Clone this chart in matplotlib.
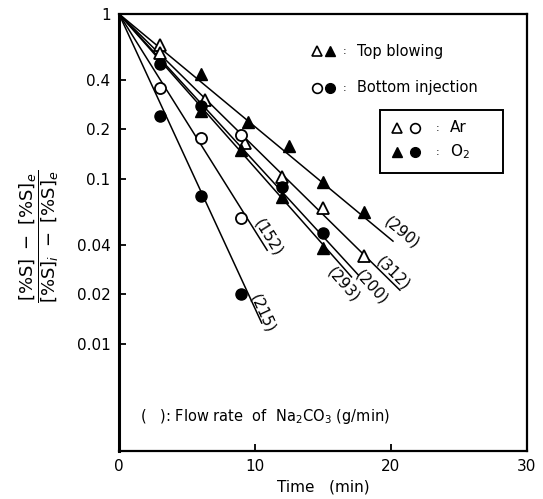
import math
import numpy as np
import matplotlib.pyplot as plt

# measured points, grouped by marker type
open_tri_t = [3, 3, 6.3, 9.3, 12, 15, 18]
open_tri_y = [0.65, 0.58, 0.30, 0.166, 0.103, 0.067, 0.034]
filled_tri_t = [6, 6, 9.5, 9, 12.5, 12, 15, 15, 18]
filled_tri_y = [0.43, 0.258, 0.22, 0.15, 0.158, 0.078, 0.096, 0.038, 0.063]
open_circ_t = [3, 6, 9, 9]
open_circ_y = [0.356, 0.177, 0.185, 0.058]
filled_circ_t = [3, 3, 6, 6, 9, 12, 15]
filled_circ_y = [0.50, 0.24, 0.277, 0.079, 0.02, 0.089, 0.047]

# fitted lines, all starting from (0, 1)
line_labels = ['(290)', '(312)', '(200)', '(293)', '(152)', '(215)']
line_end_t = [20.15, 20.66, 17.6, 17.1, 10.9, 10.5]
line_end_y = [0.042, 0.0212, 0.0262, 0.0255, 0.037, 0.0134]
label_t = [20.8, 20.15, 18.6, 16.5, 10.96, 10.6]
label_y = [0.0471, 0.0269, 0.0221, 0.0228, 0.0439, 0.0154]

x_ticks = [0, 10, 20, 30]
y_ticks = [1, 0.4, 0.2, 0.1, 0.04, 0.02, 0.01]
y_tick_labels = ['1', '0.4', '0.2', '0.1', '0.04', '0.02', '0.01']

plt.rcParams['font.family'] = ['DejaVu Sans']

fig = plt.figure(figsize=(5.43, 4.99), dpi=100)
ax = fig.add_axes([0.219, 0.0962, 0.7515, 0.876])
ax.set_yscale('log')
ax.set_xlim(0, 30)
ax.set_ylim(10 ** -2.648, 1)

for t_end, y_end in zip(line_end_t, line_end_y):
    ax.plot([0, t_end], [1, y_end], color='black', lw=1.1, zorder=2)

ms = 8
ax.plot(open_tri_t, open_tri_y, '^', ms=ms, mfc='white', mec='black', mew=1.3, ls='none', zorder=3)
ax.plot(filled_tri_t, filled_tri_y, '^', ms=ms, mfc='black', mec='black', ls='none', zorder=3)
ax.plot(open_circ_t, open_circ_y, 'o', ms=ms, mfc='white', mec='black', mew=1.3, ls='none', zorder=3)
ax.plot(filled_circ_t, filled_circ_y, 'o', ms=ms, mfc='black', mec='black', ls='none', zorder=3)

ax.set_xticks(x_ticks)
ax.set_xticklabels([str(v) for v in x_ticks])
ax.set_yticks(y_ticks)
ax.set_yticklabels(y_tick_labels)
ax.minorticks_off()
ax.tick_params(direction='in', length=5, width=1.3, labelsize=11, pad=6)
for side in ['top', 'right', 'bottom']:
    ax.spines[side].set_linewidth(1.6)
ax.spines['left'].set_linewidth(2.2)

# line labels rotated along each line
fig.canvas.draw()
for lab, t_end, y_end, lt, ly in zip(line_labels, line_end_t, line_end_y, label_t, label_y):
    p0 = ax.transData.transform((0, 1))
    p1 = ax.transData.transform((t_end, y_end))
    ang = math.degrees(math.atan2(p1[1] - p0[1], p1[0] - p0[0]))
    ax.text(lt, ly, lab, rotation=ang, rotation_mode='anchor', ha='center', va='center', fontsize=11)

# legend keys
kw_open = dict(mfc='white', mec='black', mew=1.2, ms=7, transform=ax.transAxes, clip_on=False)
kw_fill = dict(mfc='black', mec='black', ms=7, transform=ax.transAxes, clip_on=False)
ax.plot(0.485, 0.915, '^', **kw_open)
ax.plot(0.517, 0.915, '^', **kw_fill)
ax.text(0.552, 0.915, ':', transform=ax.transAxes, ha='center', va='center', fontsize=8)
ax.text(0.583, 0.915, 'Top blowing', transform=ax.transAxes, ha='left', va='center', fontsize=10.5)
ax.plot(0.485, 0.831, 'o', **kw_open)
ax.plot(0.517, 0.831, 'o', **kw_fill)
ax.text(0.552, 0.831, ':', transform=ax.transAxes, ha='center', va='center', fontsize=8)
ax.text(0.583, 0.831, 'Bottom injection', transform=ax.transAxes, ha='left', va='center', fontsize=10.5)

box = plt.Rectangle((0.640, 0.636), 0.301, 0.144, transform=ax.transAxes, fill=False, lw=1.4, ec='black')
ax.add_patch(box)
ax.plot(0.681, 0.739, '^', **kw_open)
ax.plot(0.725, 0.739, 'o', **kw_open)
ax.text(0.782, 0.739, ':', transform=ax.transAxes, ha='center', va='center', fontsize=8)
ax.text(0.812, 0.739, 'Ar', transform=ax.transAxes, ha='left', va='center', fontsize=11)
ax.plot(0.681, 0.684, '^', **kw_fill)
ax.plot(0.725, 0.684, 'o', **kw_fill)
ax.text(0.782, 0.684, ':', transform=ax.transAxes, ha='center', va='center', fontsize=8)
ax.text(0.812, 0.684, r'O$_2$', transform=ax.transAxes, ha='left', va='center', fontsize=11)

ax.text(0.051, 0.078, r'(   ): Flow rate  of  Na$_2$CO$_3$ (g/min)', transform=ax.transAxes,
        ha='left', va='center', fontsize=10.5)

ax.set_xlabel('Time   (min)', fontsize=11, labelpad=4)
ylab = r'$\dfrac{[\%\mathrm{S}]\ -\ [\%\mathrm{S}]_e}{[\%\mathrm{S}]_i\ -\ [\%\mathrm{S}]_e}$'
fig.text(0.072, 0.527, ylab, rotation=90, ha='center', va='center', fontsize=13)

fig.savefig('out.png', dpi=100)
